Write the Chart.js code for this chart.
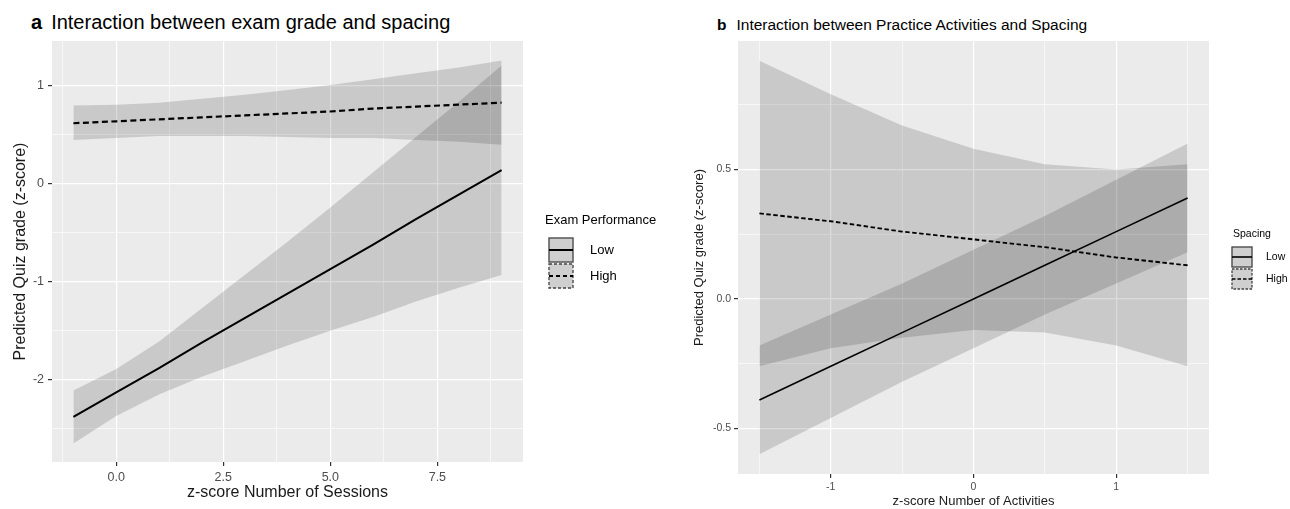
<!DOCTYPE html>
<html>
<head>
<meta charset="utf-8">
<script src="https://cdn.jsdelivr.net/npm/chart.js@4.4.1/dist/chart.umd.min.js"></script>
<style>
  body { margin: 0; background: #fff; width: 1290px; height: 509px; position: relative; overflow: hidden; font-family: 'Liberation Sans', Arial, sans-serif; }
  .panel { position: absolute; top: 0; }
  .title { position: absolute; white-space: nowrap; color: #000; }
</style>
</head>
<body>
<div class="title" style="left:31px; top:12px; font-size:20px; line-height:20px;"><b>a</b><span style="margin-left:9px">Interaction between exam grade and spacing</span></div>
<div class="title" style="left:717px; top:17px; font-size:15.5px; line-height:15.5px;"><b>b</b><span style="margin-left:10px">Interaction between Practice Activities and Spacing</span></div>
<canvas id="chartA" class="panel" style="left:0" width="700" height="509"></canvas>
<canvas id="chartB" class="panel" style="left:640px" width="650" height="509"></canvas>
<script>
// Panel a: exam grade x spacing
const sessions = [-1, 0, 1, 2, 3, 4, 5, 6, 7, 8, 9];
const lowExamFit = [-2.38, -2.13, -1.88, -1.62, -1.37, -1.12, -0.87, -0.62, -0.36, -0.11, 0.14];
const lowExamUpper = [-2.11, -1.89, -1.61, -1.27, -0.93, -0.59, -0.24, 0.12, 0.48, 0.84, 1.21];
const lowExamLower = [-2.65, -2.37, -2.15, -1.97, -1.81, -1.65, -1.50, -1.36, -1.20, -1.06, -0.93];
const highExamFit = [0.62, 0.64, 0.66, 0.68, 0.70, 0.72, 0.74, 0.77, 0.79, 0.81, 0.83];
const highExamUpper = [0.80, 0.81, 0.83, 0.87, 0.91, 0.96, 1.01, 1.07, 1.13, 1.19, 1.26];
const highExamLower = [0.45, 0.47, 0.49, 0.49, 0.49, 0.48, 0.47, 0.47, 0.45, 0.43, 0.40];
const examXTicks = [0, 2.5, 5, 7.5];
const examXLabels = ['0.0', '2.5', '5.0', '7.5'];
const examXMinor = [-1.25, 1.25, 3.75, 6.25, 8.75];
const examYTicks = [-2, -1, 0, 1];
const examYLabels = ['-2', '-1', '0', '1'];
const examYMinor = [-2.5, -1.5, -0.5, 0.5];
const examLegend = ['Low', 'High'];

// Panel b: practice activities x spacing
const activities = [-1.5, -1, -0.5, 0, 0.5, 1, 1.5];
const lowSpacingFit = [-0.39, -0.26, -0.13, 0.00, 0.13, 0.26, 0.39];
const lowSpacingUpper = [-0.18, -0.06, 0.06, 0.19, 0.32, 0.46, 0.60];
const lowSpacingLower = [-0.60, -0.46, -0.32, -0.19, -0.06, 0.06, 0.18];
const highSpacingFit = [0.33, 0.30, 0.26, 0.23, 0.20, 0.16, 0.13];
const highSpacingUpper = [0.92, 0.79, 0.67, 0.58, 0.52, 0.50, 0.52];
const highSpacingLower = [-0.26, -0.19, -0.15, -0.12, -0.13, -0.18, -0.26];
const actXTicks = [-1, 0, 1];
const actXLabels = ['-1', '0', '1'];
const actXMinor = [-1.5, -0.5, 0.5, 1.5];
const actYTicks = [-0.5, 0, 0.5];
const actYLabels = ['-0.5', '0.0', '0.5'];
const actYMinor = [-0.25, 0.25, 0.75];
const spacingLegend = ['Low', 'High'];

const FONT = "'Liberation Sans', Arial, sans-serif";
const BAND = 'rgba(0,0,0,0.14)';
Chart.defaults.font.family = FONT;

const pts = (xs, ys) => xs.map((x, i) => ({ x: x, y: ys[i] }));

// grey panel behind the grid
const panelBg = {
    id: 'panelBg',
    beforeDraw(chart) {
        const { ctx, chartArea: a } = chart;
        ctx.save();
        ctx.fillStyle = '#EBEBEB';
        ctx.fillRect(a.left, a.top, a.right - a.left, a.bottom - a.top);
        ctx.restore();
    }
};

// ggplot style legend with ribbon keys
const keyLegend = {
    id: 'keyLegend',
    afterDraw(chart, args, o) {
        const ctx = chart.ctx;
        ctx.save();
        ctx.fillStyle = '#000';
        ctx.textBaseline = 'middle';
        ctx.font = o.fontSize + 'px ' + FONT;
        ctx.fillText(o.title, o.titleX, o.titleY);
        o.labels.forEach((label, i) => {
            const y = o.keyTop + i * o.keySize;
            const s = o.keySize;
            ctx.setLineDash([]);
            ctx.fillStyle = '#F2F2F2';
            ctx.fillRect(o.keyX, y, s, s);
            ctx.fillStyle = BAND;
            ctx.fillRect(o.keyX + 1, y + 1, s - 2, s - 2);
            ctx.setLineDash(i === 0 ? [] : o.boxDash);
            ctx.strokeStyle = '#444';
            ctx.lineWidth = 1.3;
            ctx.strokeRect(o.keyX + 1, y + 1, s - 2, s - 2);
            ctx.setLineDash(i === 0 ? [] : o.lineDash);
            ctx.strokeStyle = '#000';
            ctx.lineWidth = o.lineWidth;
            ctx.beginPath();
            ctx.moveTo(o.keyX + 1, y + s / 2);
            ctx.lineTo(o.keyX + s - 1, y + s / 2);
            ctx.stroke();
            ctx.fillStyle = '#000';
            ctx.fillText(label, o.labelX, y + s / 2);
        });
        ctx.restore();
    }
};

function axis(min, max, major, labels, minor, fontSize, tickPad, title, titleSize, titlePad, fit) {
    return {
        type: 'linear', min: min, max: max,
        border: { display: false },
        afterBuildTicks(scale) {
            scale.ticks = major.concat(minor).sort((p, q) => p - q).map(v => ({ value: v }));
        },
        afterFit: fit,
        ticks: {
            autoSkip: false, maxRotation: 0, padding: tickPad, color: '#4D4D4D',
            font: { size: fontSize },
            callback: v => { const i = major.indexOf(v); return i < 0 ? '' : labels[i]; }
        },
        grid: {
            color: '#FFFFFF',
            lineWidth: c => major.includes(c.tick.value) ? 1.2 : 0.6,
            tickColor: c => major.includes(c.tick.value) ? '#333333' : 'rgba(0,0,0,0)',
            tickLength: 4
        },
        title: { display: true, text: title, color: '#1A1A1A', font: { size: titleSize }, padding: titlePad }
    };
}

function lineSet(label, data, width, dash) {
    return { label: label, data: data, borderColor: '#000', borderWidth: width, borderDash: dash,
             pointRadius: 0, fill: false, order: 0 };
}
function bandSet(label, data, fillTo) {
    return { label: label, data: data, borderColor: 'rgba(0,0,0,0)', borderWidth: 1, pointRadius: 0,
             backgroundColor: BAND, fill: fillTo, order: 1 };
}

new Chart(document.getElementById('chartA'), {
    type: 'line',
    data: {
        datasets: [
            lineSet(examLegend[0], pts(sessions, lowExamFit), 2, []),
            lineSet(examLegend[1], pts(sessions, highExamFit), 2.2, [6, 3.5]),
            bandSet('Low upper', pts(sessions, lowExamUpper), 3),
            bandSet('Low lower', pts(sessions, lowExamLower), false),
            bandSet('High upper', pts(sessions, highExamUpper), 5),
            bandSet('High lower', pts(sessions, highExamLower), false)
        ]
    },
    options: {
        responsive: false, animation: false, events: [],
        layout: { padding: { top: 41, right: 177, left: 0, bottom: 0 } },
        scales: {
            x: axis(-1.5, 9.5, examXTicks, examXLabels, examXMinor, 12.5, 4,
                'z-score Number of Sessions', 16, { top: 0, bottom: 7 }, s => { s.height = 47; }),
            y: axis(-2.84, 1.46, examYTicks, examYLabels, examYMinor, 12.5, 4,
                'Predicted Quiz grade (z-score)', 16, { top: 11, bottom: 0 }, s => { s.width = 52; })
        },
        plugins: {
            legend: { display: false },
            tooltip: { enabled: false },
            keyLegend: {
                title: 'Exam Performance', labels: examLegend, fontSize: 13,
                titleX: 545, titleY: 220, keyX: 548, keyTop: 237, keySize: 26, labelX: 590,
                boxDash: [3, 2], lineDash: [4, 3], lineWidth: 2
            }
        }
    },
    plugins: [panelBg, keyLegend]
});

new Chart(document.getElementById('chartB'), {
    type: 'line',
    data: {
        datasets: [
            lineSet(spacingLegend[0], pts(activities, lowSpacingFit), 1.6, []),
            lineSet(spacingLegend[1], pts(activities, highSpacingFit), 1.8, [4.5, 2.5]),
            bandSet('Low upper', pts(activities, lowSpacingUpper), 3),
            bandSet('Low lower', pts(activities, lowSpacingLower), false),
            bandSet('High upper', pts(activities, highSpacingUpper), 5),
            bandSet('High lower', pts(activities, highSpacingLower), false)
        ]
    },
    options: {
        responsive: false, animation: false, events: [],
        layout: { padding: { top: 41, right: 81, left: 0, bottom: 0 } },
        scales: {
            x: axis(-1.65, 1.65, actXTicks, actXLabels, actXMinor, 10.5, 3,
                'z-score Number of Activities', 13, { top: 0, bottom: 0 }, s => { s.height = 35; }),
            y: axis(-0.676, 0.996, actYTicks, actYLabels, actYMinor, 10.5, 3,
                'Predicted Quiz grade (z-score)', 13, { top: 52, bottom: 0 }, s => { s.width = 98; })
        },
        plugins: {
            legend: { display: false },
            tooltip: { enabled: false },
            keyLegend: {
                title: 'Spacing', labels: spacingLegend, fontSize: 10.5,
                titleX: 593, titleY: 234, keyX: 591, keyTop: 246, keySize: 22, labelX: 626,
                boxDash: [2.5, 1.5], lineDash: [3.5, 2], lineWidth: 1.6
            }
        }
    },
    plugins: [panelBg, keyLegend]
});
</script>
</body>
</html>
